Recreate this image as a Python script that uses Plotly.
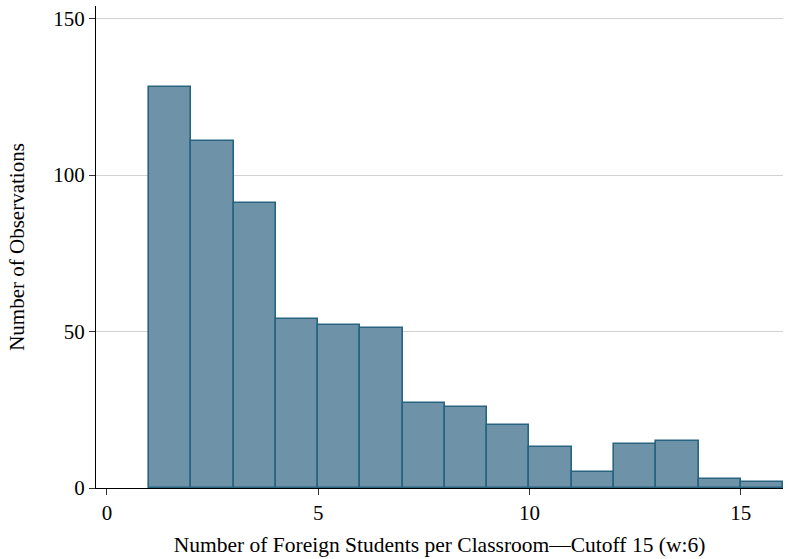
import plotly.graph_objects as go

# Histogram of foreign students per classroom (bin width 1)
bin_left = [1, 2, 3, 4, 5, 6, 7, 8, 9, 10, 11, 12, 13, 14, 15]
counts = [128, 111, 91, 54, 52, 51, 27, 26, 20, 13, 5, 14, 15, 3, 2]
x_ticks = [0, 5, 10, 15]
y_ticks = [0, 50, 100, 150]

centers = [b + 0.5 for b in bin_left]

fig = go.Figure(
    go.Bar(
        x=centers,
        y=counts,
        width=1,
        marker=dict(color="rgb(110,146,167)",
                    line=dict(color="rgb(40,100,128)", width=1.6)),
        hoverinfo="x+y",
    )
)

font = dict(family="Liberation Serif, Times New Roman, serif", size=21, color="#000")

fig.update_layout(
    width=789, height=559,
    margin=dict(l=96, r=6, t=6, b=71),
    paper_bgcolor="white", plot_bgcolor="white",
    font=font,
    bargap=0,
    showlegend=False,
    xaxis=dict(
        range=[-0.26, 16.0],
        tickvals=x_ticks,
        ticks="outside", ticklen=6, tickwidth=1.2, tickcolor="#333",
        showline=True, linecolor="#000", linewidth=1.2,
        showgrid=False, zeroline=False,
        title=dict(text="Number of Foreign Students per Classroom\u2014Cutoff 15 (w:6)",
                   font=dict(size=21.5), standoff=12),
    ),
    yaxis=dict(
        range=[0, 154],
        tickvals=y_ticks,
        ticks="outside", ticklen=6, tickwidth=1.2, tickcolor="#333",
        showline=True, linecolor="#000", linewidth=1.2,
        showgrid=True, gridcolor="#d3d3d3", gridwidth=1,
        zeroline=False,
        title=dict(text="Number of Observations", font=dict(size=21), standoff=22),
    ),
)

fig.write_html("out.html")
